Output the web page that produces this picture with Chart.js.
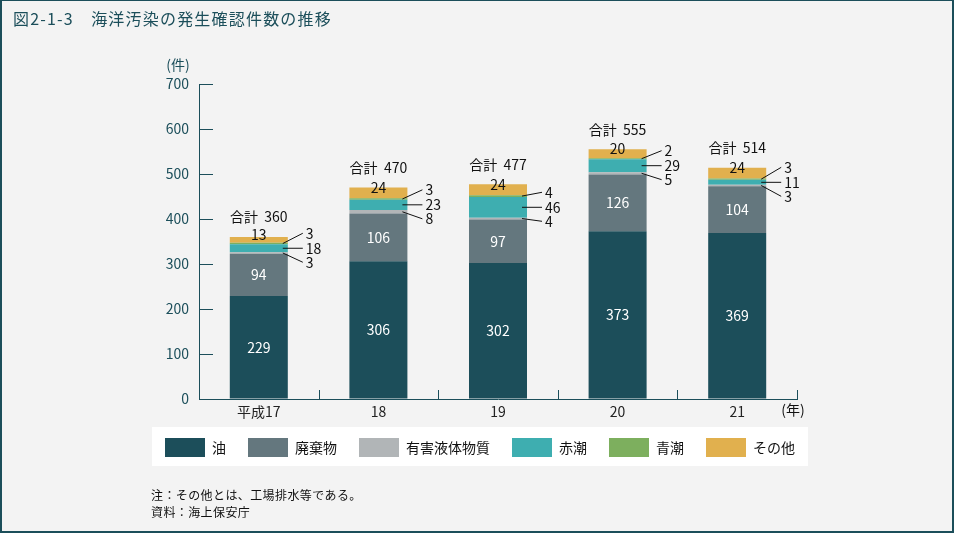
<!DOCTYPE html>
<html lang="ja">
<head>
<meta charset="utf-8">
<title>海洋汚染の発生確認件数の推移</title>
<script src="https://cdn.jsdelivr.net/npm/chart.js@4.4.1/dist/chart.umd.min.js"></script>
<style>
  html, body { margin: 0; padding: 0; background: #f3f3f3; }
  #wrap { position: relative; width: 954px; height: 533px; overflow: hidden; font-family: "Noto Sans CJK JP", sans-serif; }
  #frame { position: absolute; left: 0; top: 0; width: 954px; height: 533px; box-sizing: border-box; border: 2px solid #1b4e5a; border-top-width: 1px; pointer-events: none; }
  #chart { position: absolute; left: 0; top: 0; }
  #title { position: absolute; left: 13px; top: 7px; font-size: 16px; letter-spacing: 1.2px; color: #1b4e5a; line-height: 22px; white-space: pre; }
  .note { position: absolute; left: 151px; font-size: 12px; color: #111; letter-spacing: 0.4px; line-height: 16px; white-space: pre; }
</style>
</head>
<body>
<div id="wrap">
  <canvas id="chart" width="954" height="533"></canvas>
  <div id="title">図2-1-3　海洋汚染の発生確認件数の推移</div>
  <div class="note" style="top:487px">注：その他とは、工場排水等である。</div>
  <div class="note" style="top:504px">資料：海上保安庁</div>
  <div id="frame"></div>
</div>
<script>
// data (件)
const years = ['平成17', '18', '19', '20', '21'];
const oil = [229, 306, 302, 373, 369];       // 油
const waste = [94, 106, 97, 126, 104];       // 廃棄物
const harmful = [3, 8, 4, 5, 3];             // 有害液体物質
const redTide = [18, 23, 46, 29, 11];        // 赤潮
const blueTide = [3, 3, 4, 2, 3];            // 青潮
const others = [13, 24, 24, 20, 24];         // その他
const yTicks = [0, 100, 200, 300, 400, 500, 600, 700];
const seriesNames = ['油', '廃棄物', '有害液体物質', '赤潮', '青潮', 'その他'];
const colors = ['#1c4e5a', '#64777e', '#b1b5b7', '#3eaeb0', '#7daf5e', '#e1b04e'];

const totals = years.map((_, i) => oil[i] + waste[i] + harmful[i] + redTide[i] + blueTide[i] + others[i]);

const DARK = '#1b4e5a';
const JP = '"Noto Sans CJK JP", sans-serif';

// labels, leader lines, inward ticks and the white legend panel
const decor = {
  id: 'decor',
  afterLayout(chart) {
    const lg = chart.legend;
    lg.left = 140; lg.right = 820; lg.width = 680;
    lg.top = 416; lg.bottom = lg.top + lg.height;
  },
  beforeDraw(chart) {
    const { ctx } = chart;
    const lg = chart.legend;
    ctx.save();
    ctx.fillStyle = '#ffffff';
    ctx.fillRect(lg.left + 12, lg.top + 11, lg.width - 24, 39);
    ctx.restore();
  },
  afterDatasetsDraw(chart) {
    const ctx = chart.ctx;
    const meta = i => chart.getDatasetMeta(i).data;
    const mid = el => (el.y + el.base) / 2;
    ctx.save();
    ctx.textBaseline = 'middle';
    ctx.font = '14px ' + JP;
    years.forEach((_, i) => {
      const o = meta(0)[i], w = meta(1)[i], h = meta(2)[i], r = meta(3)[i], b = meta(4)[i], e = meta(5)[i];
      ctx.textAlign = 'center';
      ctx.fillStyle = '#ffffff';
      ctx.fillText(String(oil[i]), o.x, mid(o));
      ctx.fillText(String(waste[i]), w.x, mid(w));
      ctx.fillStyle = '#111111';
      ctx.fillText(String(others[i]), e.x, mid(e) - 5);
      ctx.fillText('合計  ' + totals[i], e.x, e.y - 20);

      // small segments labelled at the side
      ctx.textAlign = 'left';
      const right = o.x + o.width / 2;
      const midY = mid(r);
      const rows = [[b, blueTide[i], -15], [r, redTide[i], 0], [h, harmful[i], 14]];
      ctx.strokeStyle = '#111111';
      ctx.lineWidth = 1;
      rows.forEach(([el, v, dy]) => {
        const ly = midY + dy;
        ctx.beginPath();
        ctx.moveTo(right - 5, mid(el));
        ctx.lineTo(right + 15, ly);
        ctx.stroke();
        ctx.fillText(String(v), right + 18, ly);
      });
    });
    ctx.restore();
  },
  afterDraw(chart) {
    const { ctx, chartArea: ca } = chart;
    const xs = chart.scales.x, ys = chart.scales.y;
    ctx.save();
    ctx.strokeStyle = DARK;
    ctx.lineWidth = 1;
    // y ticks pointing inward
    yTicks.forEach(v => {
      if (v === 0) return;
      const y = Math.round(ys.getPixelForValue(v)) + 0.5;
      ctx.beginPath(); ctx.moveTo(ca.left, y); ctx.lineTo(ca.left + 14, y); ctx.stroke();
    });
    // x ticks at category boundaries pointing up
    const half = (xs.getPixelForValue(1) - xs.getPixelForValue(0)) / 2;
    years.forEach((_, i) => {
      const x = Math.round(xs.getPixelForValue(i) + half) + 0.5;
      ctx.beginPath(); ctx.moveTo(x, ca.bottom); ctx.lineTo(x, ca.bottom - 9); ctx.stroke();
    });
    ctx.textAlign = 'center';
    ctx.textBaseline = 'middle';
    ctx.font = '14px ' + JP;
    ctx.fillStyle = DARK;
    ctx.fillText('(件)', ca.left - 21, ca.top - 19);
    ctx.fillStyle = '#111111';
    ctx.fillText('(年)', ca.right - 4, ca.bottom + 11);
    ctx.restore();
  }
};

new Chart(document.getElementById('chart'), {
  type: 'bar',
  data: {
    labels: years,
    datasets: [oil, waste, harmful, redTide, blueTide, others].map((d, i) => ({
      label: seriesNames[i],
      data: d,
      backgroundColor: colors[i],
      borderWidth: 0
    }))
  },
  options: {
    responsive: false,
    animation: false,
    layout: { padding: { top: 84, right: 157, bottom: 63, left: 0 } },
    datasets: { bar: { categoryPercentage: 1, barPercentage: 0.485 } },
    plugins: {
      legend: {
        position: 'bottom',
        labels: { boxWidth: 40, boxHeight: 19, padding: 22, color: '#111111', font: { family: JP, size: 14 } }
      },
      tooltip: { enabled: false }
    },
    scales: {
      x: {
        stacked: true,
        offset: true,
        grid: { display: true, drawOnChartArea: false, drawTicks: false },
        border: { color: DARK, width: 1 },
        ticks: { color: '#222222', padding: 4, maxRotation: 0, font: { family: JP, size: 14 } },
        afterFit: s => { s.height = 20; }
      },
      y: {
        stacked: true,
        min: 0,
        max: 700,
        grid: { display: true, drawOnChartArea: false, drawTicks: false },
        border: { color: DARK, width: 1 },
        ticks: { color: DARK, padding: 10, font: { family: JP, size: 14 } },
        afterBuildTicks: s => { s.ticks = yTicks.map(v => ({ value: v })); },
        afterFit: s => { s.width = 199; }
      }
    }
  },
  plugins: [decor]
});
</script>
</body>
</html>
